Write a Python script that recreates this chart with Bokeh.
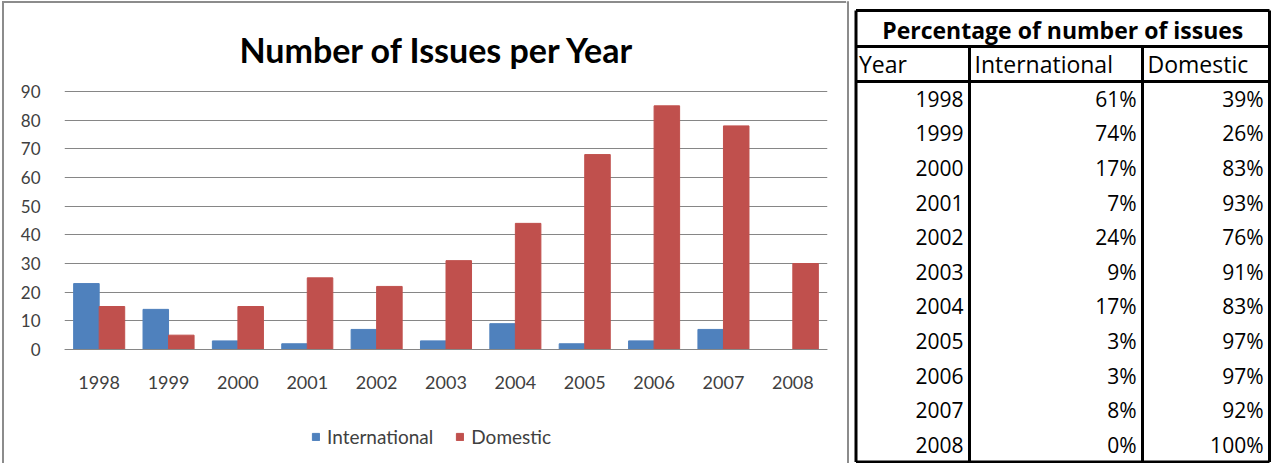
from bokeh.plotting import figure
from bokeh.models import Range1d, FactorRange, FixedTicker, Label, Legend, LegendItem, ColumnDataSource
from bokeh.transform import dodge
from bokeh.layouts import row
from bokeh.embed import file_html
from bokeh.resources import INLINE
from bokeh.core.properties import value

# ---------------- data ----------------
years = ["1998", "1999", "2000", "2001", "2002", "2003", "2004", "2005", "2006", "2007", "2008"]
international = [23, 14, 3, 2, 7, 3, 9, 2, 3, 7, 0]
domestic = [15, 5, 15, 25, 22, 31, 44, 68, 85, 78, 30]
intl_pct = [61, 74, 17, 7, 24, 9, 17, 3, 3, 8, 0]
dom_pct = [39, 26, 83, 93, 76, 91, 83, 97, 97, 92, 100]
y_ticks = [0, 10, 20, 30, 40, 50, 60, 70, 80, 90]
chart_title = "Number of Issues per Year"
series_names = ["International", "Domestic"]
table_title = "Percentage of number of issues"
table_headers = ["Year", "International", "Domestic"]

# ---------------- style / layout ----------------
FONT = "Lato"
TFONT = "Open Sans"
BLUE = "#4F81BD"
RED = "#C0504D"
GRID = "#868686"
FRAME = "#8c8c8c"
TXT = "#404040"
H = 463
CW = 846            # chart figure width
TW = 1271 - CW      # table figure width
FL, FR = 64, 827    # plot frame left / right (px)
Y0_PX, Y90_PX = 349, 91   # pixel rows of value 0 and 90
ppu = (Y0_PX - Y90_PX) / 90.0
y_lo = -(H - Y0_PX) / ppu
y_hi = Y0_PX / ppu

p = figure(x_range=FactorRange(*years), y_range=Range1d(y_lo, y_hi),
           width=CW, height=H, output_backend="svg", toolbar_location=None,
           min_border_left=FL, min_border_right=CW - FR, min_border_top=0, min_border_bottom=0)
p.background_fill_alpha = 0
p.border_fill_alpha = 0
p.styles = {"box-shadow": f"inset 2px 1px 0 0 #ffffff, inset 4px 3px 0 0 {FRAME}"}

src = ColumnDataSource(dict(years=years, international=international, domestic=domestic))
bw = 0.368
r1 = p.vbar(x=dodge("years", -bw / 2, range=p.x_range), top="international", width=bw,
            fill_color=BLUE, line_color=BLUE, source=src)
r2 = p.vbar(x=dodge("years", bw / 2, range=p.x_range), top="domestic", width=bw,
            fill_color=RED, line_color=RED, source=src)

p.outline_line_color = None
p.xgrid.grid_line_color = None
p.ygrid.grid_line_color = GRID
p.ygrid.ticker = FixedTicker(ticks=y_ticks)

p.yaxis.ticker = FixedTicker(ticks=y_ticks)
p.yaxis.axis_line_color = None
p.yaxis.major_tick_line_color = None
p.yaxis.minor_tick_line_color = None
p.yaxis.major_label_standoff = 18
p.yaxis.major_label_text_font = FONT
p.yaxis.major_label_text_font_size = "17px"
p.yaxis.major_label_text_color = TXT

p.xaxis.fixed_location = 0
p.xaxis.axis_line_color = GRID
p.xaxis.major_tick_line_color = None
p.xaxis.minor_tick_line_color = None
p.xaxis.major_label_standoff = 20
p.xaxis.major_label_text_font = FONT
p.xaxis.major_label_text_font_size = "18px"
p.xaxis.major_label_text_color = TXT

p.add_layout(Label(x=(437 - FL) / ((FR - FL) / len(years)), y=(Y0_PX - 49) / ppu, text=chart_title,
                   text_align="center", text_baseline="middle",
                   text_font=FONT, text_font_size="34px", text_font_style="bold", text_color="black"))

legend = Legend(items=[LegendItem(label=series_names[0], renderers=[r1]),
                       LegendItem(label=series_names[1], renderers=[r2])],
                orientation="horizontal", location=(311 - FL, 15),
                glyph_width=9, glyph_height=9, label_standoff=7, spacing=22,
                padding=0, margin=0, border_line_color=None, background_fill_alpha=0,
                label_text_font=FONT, label_text_font_size="19px", label_text_color=TXT)
p.add_layout(legend)

# ---------------- table ----------------
t = figure(width=TW, height=H, x_range=Range1d(CW, 1271), y_range=Range1d(H, 0),
           min_border=0, output_backend="svg", toolbar_location=None)
t.axis.visible = False
t.grid.visible = False
t.outline_line_color = None

# right edge of the chart frame
t.segment(x0=[847.5, CW], y0=[1, 2], x1=[847.5, 848.5], y1=[H, 2], line_color=FRAME, line_width=2)

L, C1, C2, R = 855.5, 969, 1142, 1269
TOP, HB1, HB2, BOT = 10, 46, 81, 461.5
rh = (BOT - HB2) / len(years)

t.segment(x0=[L, L, L, L, R, C1, C2, L], y0=[TOP, BOT, HB1, HB2, TOP, HB1, HB1, TOP],
          x1=[R, R, R, R, R, C1, C2, L], y1=[TOP, BOT, HB1, HB2, BOT, BOT, BOT, BOT],
          line_color="black", line_width=3)

t.text(x=[(L + R) / 2], y=[(TOP + HB1) / 2 + 1], text=[table_title], text_align="center",
       text_baseline="middle", text_font=value(TFONT), text_font_size=value("23px"),
       text_font_style="bold", text_color="black")
t.text(x=[L + 3, C1 + 5, C2 + 5], y=[(HB1 + HB2) / 2 - 0.5] * 3, text=table_headers, text_align="left",
       text_baseline="middle", text_font=value(TFONT), text_font_size=value("23px"), text_color="black")

ys = [HB2 + rh * (i + 0.5) for i in range(len(years))]
tsrc = ColumnDataSource(dict(y=ys, year=years,
                             ip=[f"{v}%" for v in intl_pct],
                             dp=[f"{v}%" for v in dom_pct]))
for xx, col in [(C1 - 6, "year"), (C2 - 6, "ip"), (R - 6, "dp")]:
    t.text(x=xx, y="y", text=col, source=tsrc, text_align="right", text_baseline="middle",
           text_font=value(TFONT), text_font_size=value("21px"), text_color="black")

layout = row(p, t)
open("out.html", "w").write(file_html(layout, INLINE))
